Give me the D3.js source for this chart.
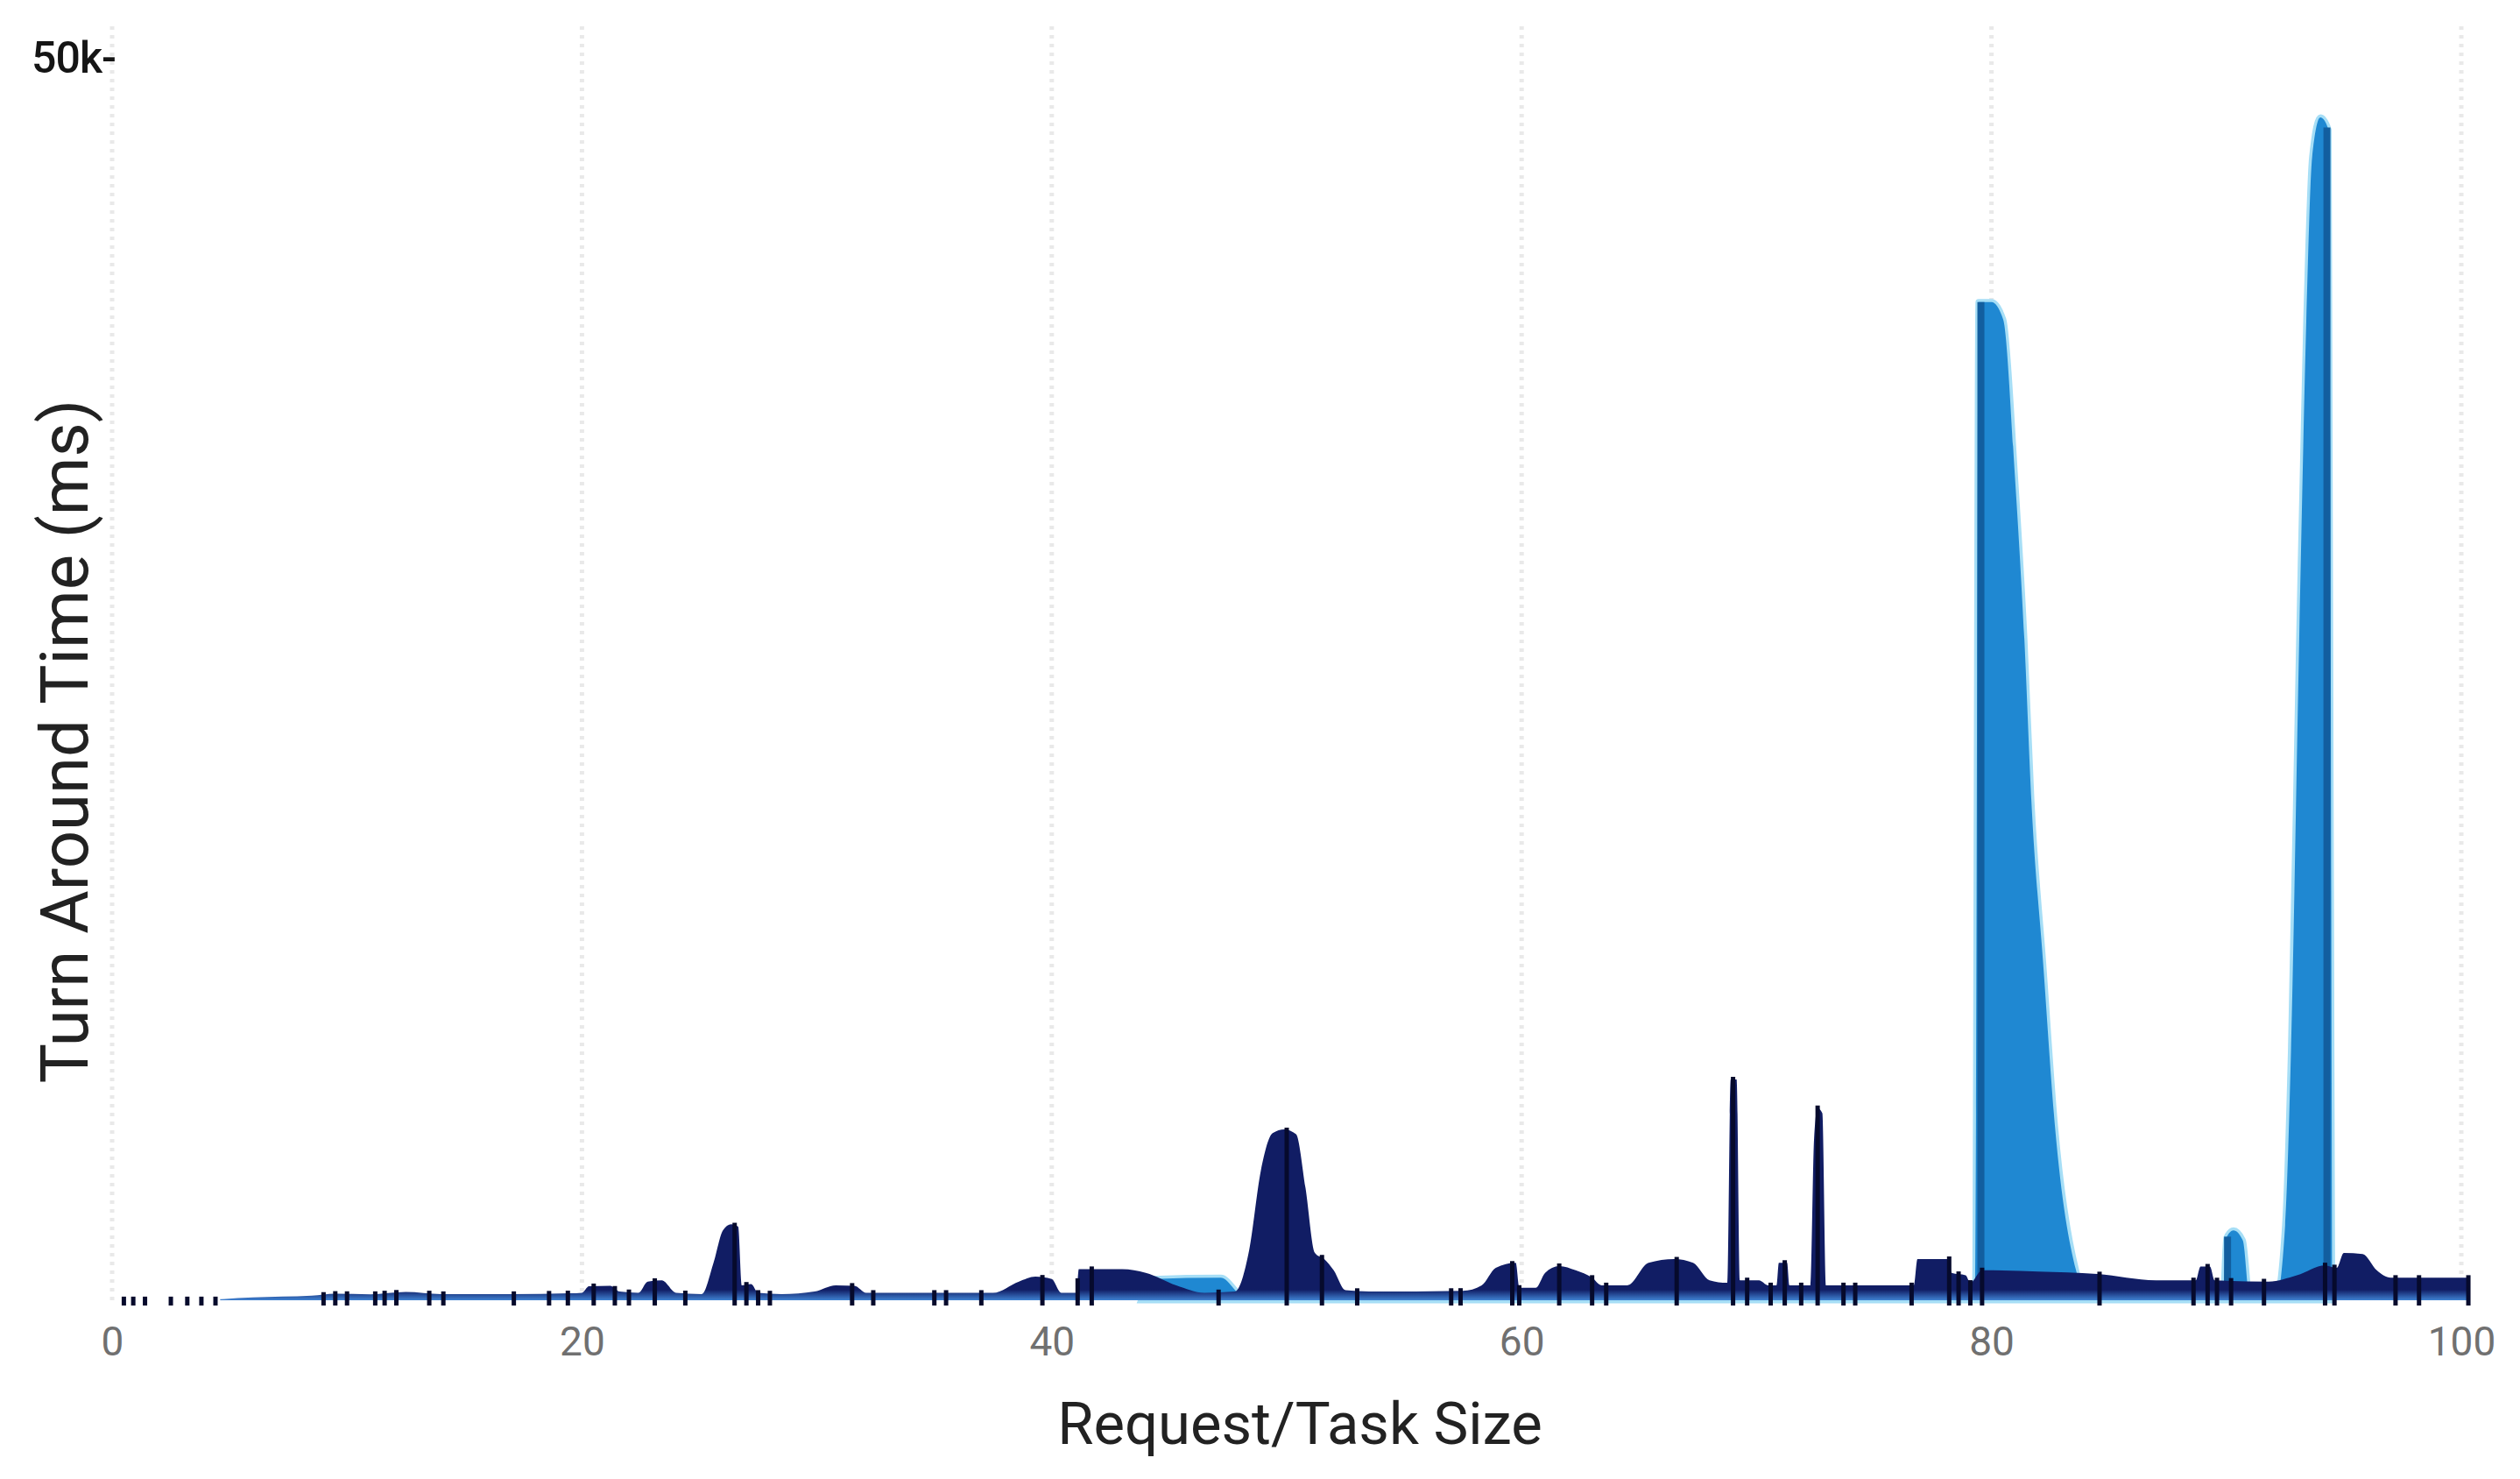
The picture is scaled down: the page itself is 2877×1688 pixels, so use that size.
<!DOCTYPE html>
<html>
<head>
<meta charset="utf-8">
<title>Turn Around Time</title>
<script src="https://cdn.jsdelivr.net/npm/d3@7"></script>
<style>
  body { margin: 0; background: #fff; }
  #chart svg { display: block; }
</style>
</head>
<body>
<div id="chart"></div>
<script>
// dark series: request/task size -> turn around time (ms)
const navyX = [4.6, 6, 8.5, 9.5, 11, 12.5, 14, 17, 19.5, 20.0, 20.3, 21.2, 21.6, 22.4, 22.8, 23.4, 24.0,
  25.1, 25.6, 26.0, 26.35, 26.65, 26.8, 27.2, 27.5, 28.5, 29.9, 30.8, 31.6, 32.1, 37.5, 38.6, 39.3, 40.0, 40.4,
  41.05, 41.15, 43.0, 44.0, 45.3, 46.5, 47.8, 48.4, 48.9, 49.4, 49.9, 50.4, 50.8, 51.2, 51.6, 52.0, 52.5, 53.5,
  57.5, 58.3, 58.9, 59.75, 59.9, 60.6, 61.0, 61.6, 62.3, 63.0, 63.4, 64.5, 65.4, 66.5, 67.3, 68.0, 68.75,
  68.9, 69.15, 69.3, 70.1, 70.5, 70.85, 70.95, 71.3, 71.4, 72.3, 72.45, 72.6, 72.8, 72.95, 76.7, 76.85,
  78.2, 78.3, 78.9, 79.1, 79.6, 82.0, 84.5, 87.0, 88.7, 88.9, 89.3, 89.5, 91.8, 93.0, 94.2, 94.7, 95.0,
  95.8, 96.4, 97.0, 100.3];
const navyY = [40, 110, 180, 260, 240, 330, 250, 250, 280, 300, 560, 580, 350, 300, 750, 800, 300,
  250, 1500, 2800, 3050, 2950, 600, 650, 300, 250, 350, 600, 580, 300, 300, 750, 950, 850, 300,
  300, 1250, 1250, 1100, 600, 300, 350, 2000, 5200, 6700, 6850, 6650, 4500, 1900, 1650, 1200, 400, 350,
  380, 600, 1300, 1500, 500, 500, 1100, 1370, 1200, 900, 600, 600, 1500, 1650, 1500, 800, 700,
  8850, 8850, 800, 800, 600, 600, 1500, 1500, 600, 600, 6500, 7700, 7500, 600, 600, 1650,
  1650, 1100, 1000, 700, 1200, 1150, 1050, 800, 800, 1350, 1350, 800, 750, 1000, 1400, 1300, 1900,
  1850, 1200, 900, 900];

// light blue series: the big spikes near 80 and 94
const blueX = [43.8, 44.3, 47.2, 47.9, 48.2, 79.3, 79.45, 80.0, 80.5, 81.0, 81.4, 81.7, 82.2, 82.7, 83.6, 84.2,
  89.85, 90.0, 90.3, 90.7, 91.0, 92.1, 92.5, 92.75, 93.1, 93.4, 93.65, 94.0, 94.35, 94.5];
const blueY = [0, 850, 900, 300, 0, 0, 40000, 40000, 39300, 33000, 26500, 20000, 13500, 7000, 1200, 0,
  0, 2500, 2800, 2400, 0, 0, 3000, 10000, 26500, 39200, 45800, 47400, 46900, 0];

// drop lines under the samples
const navyTicks = [0.5, 0.9, 1.4, 2.5, 3.2, 3.8, 4.4, 9.0, 9.5, 10.0, 11.2, 11.6, 12.1, 13.5, 14.1, 17.1, 18.6,
  19.4, 20.5, 21.4, 22.0, 23.1, 24.4, 26.5, 27.0, 27.5, 28.0, 31.5, 32.4, 35.0, 35.5, 37.0, 39.6, 41.1, 41.7,
  47.1, 50.0, 51.5, 53.0, 57.0, 57.4, 59.6, 59.9, 61.6, 63.0, 63.6, 66.6, 69.0, 69.6, 70.6, 71.2, 71.9, 72.6,
  73.7, 74.2, 76.6, 78.2, 78.6, 79.1, 79.6, 84.6, 88.6, 89.2, 89.6, 90.2, 91.6, 94.2, 94.6, 97.2, 98.2, 100.3];
const blueTicks = [79.55, 90.05, 94.28];

const xTicks = [0, 20, 40, 60, 80, 100];
const yTicks = [50000];
const xTitle = "Request/Task Size";
const yTitle = "Turn Around Time (ms)";

const width = 2877, height = 1688;

const svg = d3.select("#chart").append("svg")
  .attr("width", width)
  .attr("height", height);

const x = d3.scaleLinear().domain([0, 100]).range([128, 2810]);
const y = d3.scaleLinear().domain([0, 50000]).range([1484, 60]);

// linear lookup of a series value, used for the drop line heights
function valueAt(xs, ys, v) {
  if (v <= xs[0]) return ys[0];
  if (v >= xs[xs.length - 1]) return ys[ys.length - 1];
  let i = d3.bisectRight(xs, v);
  let t = (v - xs[i - 1]) / (xs[i] - xs[i - 1]);
  return ys[i - 1] + t * (ys[i] - ys[i - 1]);
}

const defs = svg.append("defs");
let grad = defs.append("linearGradient")
  .attr("id", "navyFill")
  .attr("gradientUnits", "userSpaceOnUse")
  .attr("x1", 0).attr("x2", 0)
  .attr("y1", y(0)).attr("y2", y(0) - 12);
grad.append("stop").attr("offset", 0).attr("stop-color", "#3f82d2");
grad.append("stop").attr("offset", 1).attr("stop-color", "#111d64");

// dotted grid
svg.append("g")
  .selectAll("line")
  .data(xTicks)
  .join("line")
  .attr("x1", d => x(d)).attr("x2", d => x(d))
  .attr("y1", 30).attr("y2", y(0))
  .attr("stroke", "#e9e9e9")
  .attr("stroke-width", 5)
  .attr("stroke-dasharray", "4 6");

const area = d3.area()
  .x(d => x(d[0]))
  .y0(y(0))
  .y1(d => y(d[1]))
  .curve(d3.curveMonotoneX);

const blueData = d3.zip(blueX, blueY);
const navyData = d3.zip(navyX, navyY);

svg.append("path")
  .datum(blueData)
  .attr("d", area)
  .attr("fill", "none")
  .attr("stroke", "#a6def6")
  .attr("stroke-width", 7);

svg.append("path")
  .datum(blueData)
  .attr("d", area)
  .attr("fill", "#1f88d2");

svg.append("g")
  .selectAll("line")
  .data(blueTicks)
  .join("line")
  .attr("x1", d => x(d)).attr("x2", d => x(d))
  .attr("y1", d => y(valueAt(blueX, blueY, d)))
  .attr("y2", y(0))
  .attr("stroke", "#125e9f")
  .attr("stroke-width", 8);

svg.append("path")
  .datum(navyData)
  .attr("d", area)
  .attr("fill", "url(#navyFill)");

svg.append("g")
  .selectAll("line")
  .data(navyTicks)
  .join("line")
  .attr("x1", d => x(d)).attr("x2", d => x(d))
  .attr("y1", d => y(valueAt(navyX, navyY, d)) - 3)
  .attr("y2", y(0) + 6)
  .attr("stroke", "#060a2c")
  .attr("stroke-width", 5);

// axes
const xAxis = svg.append("g")
  .attr("transform", `translate(0,${y(0)})`)
  .call(d3.axisBottom(x).tickValues(xTicks).tickSize(0).tickPadding(30));
xAxis.select(".domain").remove();
xAxis.selectAll("text")
  .attr("fill", "#707070")
  .style("font-family", "Roboto, sans-serif")
  .style("font-size", "46px");

const yAxis = svg.append("g")
  .attr("transform", `translate(${x(0) + 4},0)`)
  .call(d3.axisLeft(y).tickValues(yTicks).tickSize(0).tickPadding(0)
    .tickFormat(d => d3.format("~s")(d) + "-"));
yAxis.select(".domain").remove();
yAxis.selectAll("text")
  .attr("fill", "#151515")
  .attr("dy", "0.45em")
  .style("font-family", "Roboto, sans-serif")
  .style("font-weight", "500")
  .style("font-size", "50px")
  .style("letter-spacing", "-1px");

svg.append("text")
  .attr("x", 1484)
  .attr("y", 1648)
  .attr("text-anchor", "middle")
  .attr("fill", "#222")
  .style("font-family", "Roboto, sans-serif")
  .style("font-size", "67px")
  .text(xTitle);

svg.append("text")
  .attr("transform", "translate(100,846) rotate(-90)")
  .attr("text-anchor", "middle")
  .attr("fill", "#222")
  .style("font-family", "Roboto, sans-serif")
  .style("font-size", "76px")
  .text(yTitle);
</script>
</body>
</html>
